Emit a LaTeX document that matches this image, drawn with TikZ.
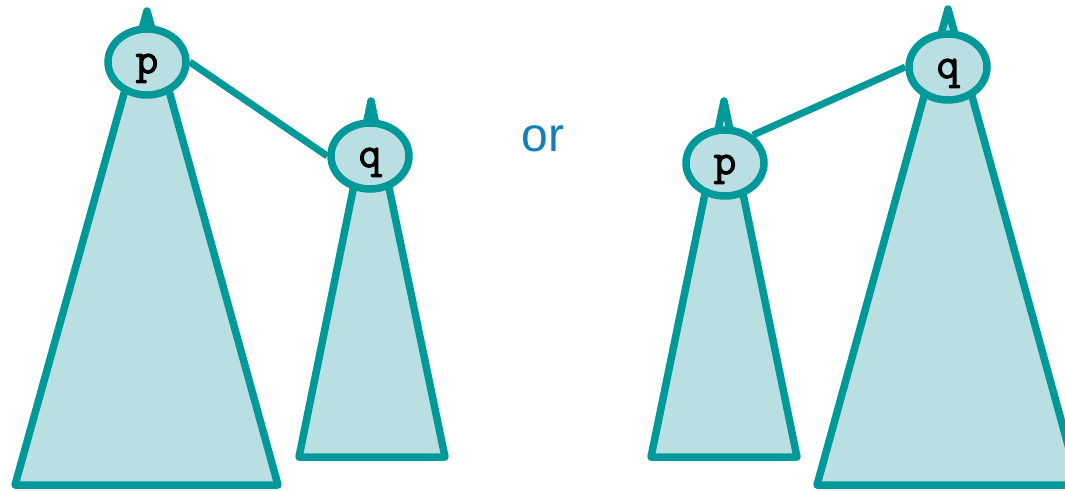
\documentclass[tikz,border=0pt]{standalone}
\usepackage{fontspec}
\newfontfamily\sansf{Liberation Sans}
\newfontfamily\keyfont[FakeBold=2.5]{Latin Modern Mono}
\usetikzlibrary{shapes.geometric,backgrounds}
\definecolor{teal1}{RGB}{0,153,153}
\definecolor{fillc}{RGB}{185,223,226}
\definecolor{orblue}{RGB}{16,128,182}
\newcommand{\keylabel}[1]{\raisebox{-3pt}{#1}}
\tikzset{
  tri/.style={draw=teal1, fill=fillc, line width=7.5pt, line join=round},
  keynode/.style={ellipse, draw=teal1, fill=fillc, line width=7.5pt,
    minimum width=78pt, minimum height=66pt, inner sep=0pt, text depth=0pt,
    font=\keyfont\bfseries\fontsize{44}{44}\selectfont},
  link/.style={draw=teal1, line width=7pt}
}
\begin{document}
\begin{tikzpicture}[x=1pt,y=-1pt]
\useasboundingbox (0,0) rectangle (1065,490);
\begin{scope}[on background layer]
  \draw[tri] (147,11) -- (278,485) -- (15,485) -- cycle;
  \draw[tri] (371,101) -- (445,457) -- (299,457) -- cycle;
  \draw[tri] (724,101) -- (797,457) -- (651,457) -- cycle;
  \draw[tri] (948,9) -- (1079,485) -- (817,485) -- cycle;
\end{scope}
\node[keynode] (p1) at (147,62) {\keylabel{p}};
\node[keynode] (q1) at (370,156) {\keylabel{q}};
\node[keynode] (p2) at (725,163) {\keylabel{p}};
\node[keynode] (q2) at (948,67) {\keylabel{q}};
\node[font=\sansf\fontsize{48}{48}\selectfont, text=orblue] (or) at (543,139) {or};
\begin{scope}[on background layer]
  \draw[link] (p1.east) -- (q1.west);
  \draw[link] (p2.45) -- (q2.west);
\end{scope}
\end{tikzpicture}
\end{document}
